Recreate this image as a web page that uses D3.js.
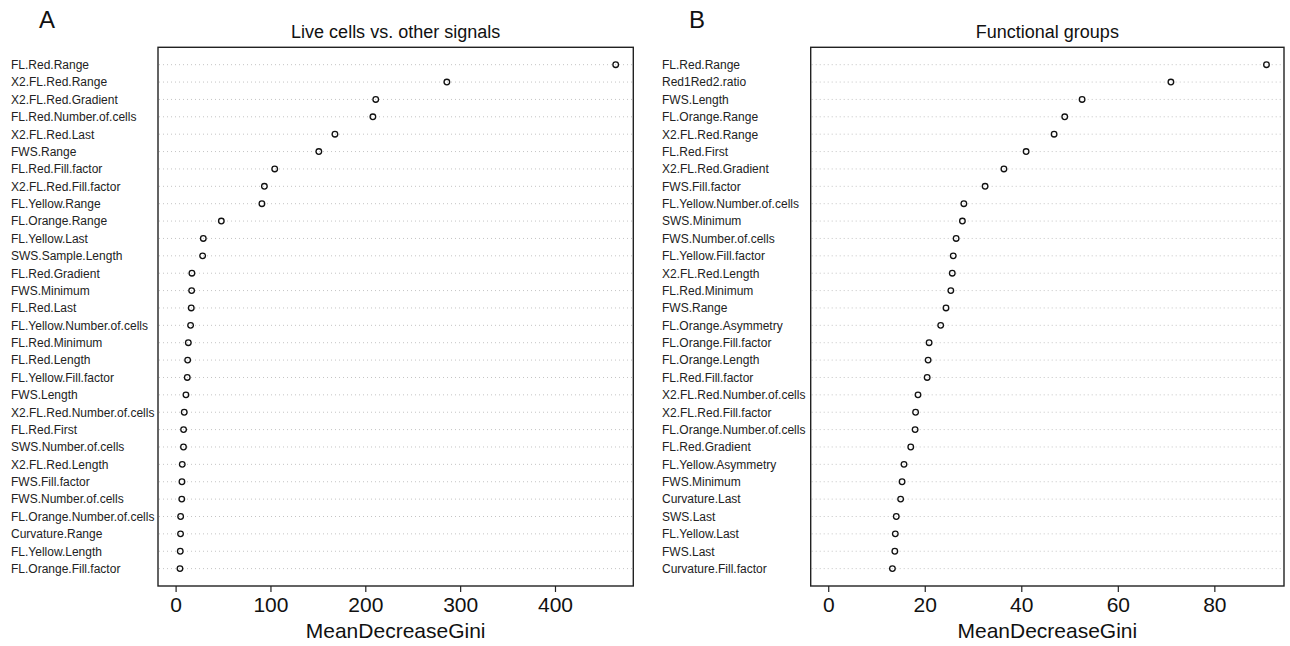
<!DOCTYPE html>
<html>
<head>
<meta charset="utf-8">
<script src="https://cdn.jsdelivr.net/npm/d3@7"></script>
<style>
  body { margin: 0; background: #fff; }
  text { font-family: "Liberation Sans", Arial, Helvetica, sans-serif; fill: #111; }
</style>
</head>
<body>
<div class="chart"></div>
<script>
var w = 1290;
var h = 646;

// panel A : Live cells vs. other signals
var namesA = ["FL.Red.Range", "X2.FL.Red.Range", "X2.FL.Red.Gradient", "FL.Red.Number.of.cells",
  "X2.FL.Red.Last", "FWS.Range", "FL.Red.Fill.factor", "X2.FL.Red.Fill.factor", "FL.Yellow.Range",
  "FL.Orange.Range", "FL.Yellow.Last", "SWS.Sample.Length", "FL.Red.Gradient", "FWS.Minimum",
  "FL.Red.Last", "FL.Yellow.Number.of.cells", "FL.Red.Minimum", "FL.Red.Length", "FL.Yellow.Fill.factor",
  "FWS.Length", "X2.FL.Red.Number.of.cells", "FL.Red.First", "SWS.Number.of.cells", "X2.FL.Red.Length",
  "FWS.Fill.factor", "FWS.Number.of.cells", "FL.Orange.Number.of.cells", "Curvature.Range",
  "FL.Yellow.Length", "FL.Orange.Fill.factor"];
var valuesA = [464, 286, 211, 208, 168, 151, 104.5, 93.6, 91, 48.2, 29.2, 28.5, 17.2, 16.9, 16.5, 15.8,
  13.4, 12.7, 12.3, 10.9, 9.1, 8.4, 8.3, 7.0, 6.7, 6.5, 5.3, 5.2, 4.9, 4.6];
var ticksA = [0, 100, 200, 300, 400];

// panel B : Functional groups
var namesB = ["FL.Red.Range", "Red1Red2.ratio", "FWS.Length", "FL.Orange.Range", "X2.FL.Red.Range",
  "FL.Red.First", "X2.FL.Red.Gradient", "FWS.Fill.factor", "FL.Yellow.Number.of.cells", "SWS.Minimum",
  "FWS.Number.of.cells", "FL.Yellow.Fill.factor", "X2.FL.Red.Length", "FL.Red.Minimum", "FWS.Range",
  "FL.Orange.Asymmetry", "FL.Orange.Fill.factor", "FL.Orange.Length", "FL.Red.Fill.factor",
  "X2.FL.Red.Number.of.cells", "X2.FL.Red.Fill.factor", "FL.Orange.Number.of.cells", "FL.Red.Gradient",
  "FL.Yellow.Asymmetry", "FWS.Minimum", "Curvature.Last", "SWS.Last", "FL.Yellow.Last", "FWS.Last",
  "Curvature.Fill.factor"];
var valuesB = [90.8, 71.0, 52.6, 49.0, 46.8, 41.0, 36.4, 32.5, 28.1, 27.8, 26.5, 25.9, 25.7, 25.4, 24.4,
  23.3, 20.9, 20.7, 20.5, 18.6, 18.1, 18.0, 17.1, 15.7, 15.3, 15.0, 14.1, 13.9, 13.8, 13.3];
var ticksB = [0, 20, 40, 60, 80];

var svg = d3.select(".chart").append("svg")
  .attr("width", w)
  .attr("height", h);

svg.append("rect").attr("width", w).attr("height", h).attr("fill", "#fff");

var plotTop = 47.3, plotBottom = 586;

function panel(letter, title, names, values, ticks, labelX, letterX, left, right) {
  var n = names.length;
  var data = names.map(function(d, i) { return { name: d, value: values[i], row: n - i }; });

  // dotchart style: 0 included, 4% padding each side
  var maxV = d3.max(values);
  var xScale = d3.scaleLinear()
    .domain([-0.04 * maxV, maxV * 1.04])
    .range([left, right]);
  var yScale = d3.scaleLinear()
    .domain([0, n + 1])
    .range([plotBottom, plotTop]);

  var g = svg.append("g");

  // dotted guide lines
  g.selectAll("line.guide")
    .data(data)
    .enter()
    .append("line")
    .attr("class", "guide")
    .attr("x1", left + 1)
    .attr("x2", right - 1)
    .attr("y1", function(d) { return yScale(d.row); })
    .attr("y2", function(d) { return yScale(d.row); })
    .attr("stroke", "#c4c4c4")
    .attr("stroke-width", 1)
    .attr("stroke-dasharray", "1,3");

  // points
  g.selectAll("circle")
    .data(data)
    .enter()
    .append("circle")
    .attr("cx", function(d) { return xScale(d.value); })
    .attr("cy", function(d) { return yScale(d.row); })
    .attr("r", 2.8)
    .attr("fill", "none")
    .attr("stroke", "#111")
    .attr("stroke-width", 1.3);

  // row labels
  g.selectAll("text.lab")
    .data(data)
    .enter()
    .append("text")
    .attr("class", "lab")
    .attr("x", labelX)
    .attr("y", function(d) { return yScale(d.row); })
    .attr("dy", "0.36em")
    .attr("font-size", "12px")
    .style("fill", "#222")
    .text(function(d) { return d.name; });

  // box
  g.append("rect")
    .attr("x", left)
    .attr("y", plotTop)
    .attr("width", right - left)
    .attr("height", plotBottom - plotTop)
    .attr("fill", "none")
    .attr("stroke", "#222")
    .attr("stroke-width", 1.4);

  var xAxis = d3.axisBottom(xScale)
    .tickValues(ticks)
    .tickSize(6)
    .tickPadding(5)
    .tickFormat(d3.format("d"));

  var ax = g.append("g")
    .attr("transform", "translate(0," + plotBottom + ")")
    .call(xAxis);
  ax.select(".domain").remove();
  ax.selectAll("line").attr("stroke", "#222").attr("stroke-width", 1.2);
  ax.selectAll("text")
    .attr("font-size", "21px")
    .attr("font-family", "'Liberation Sans', Arial, sans-serif")
    .attr("fill", "#111");

  g.append("text")
    .attr("x", (left + right) / 2)
    .attr("y", 638)
    .attr("text-anchor", "middle")
    .attr("font-size", "21px")
    .text("MeanDecreaseGini");

  g.append("text")
    .attr("x", (left + right) / 2)
    .attr("y", 38)
    .attr("text-anchor", "middle")
    .attr("font-size", "18px")
    .text(title);

  g.append("text")
    .attr("x", letterX)
    .attr("y", 28)
    .attr("font-size", "24px")
    .text(letter);
}

panel("A", "Live cells vs. other signals", namesA, valuesA, ticksA, 11, 39, 158, 633.3);
panel("B", "Functional groups", namesB, valuesB, ticksB, 662, 689, 810.7, 1284);
</script>
</body>
</html>
